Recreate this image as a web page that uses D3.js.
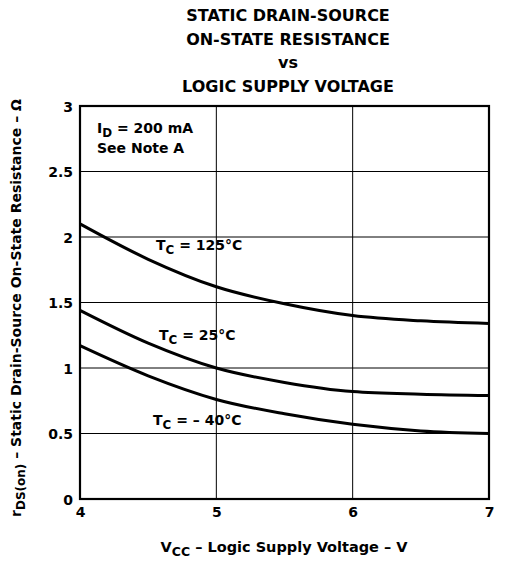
<!DOCTYPE html>
<html><head><meta charset="utf-8">
<script src="https://cdn.jsdelivr.net/npm/d3@7"></script>
<style>body{margin:0;background:#fff}svg{display:block}text{font-family:"DejaVu Sans",sans-serif;font-weight:bold;fill:#000}</style>
</head><body>
<svg id="c" width="513" height="564"></svg>
<script>
const vcc = [4, 4.5, 5, 5.5, 6, 6.5, 7];
const r125 = [2.10, 1.83, 1.62, 1.49, 1.40, 1.36, 1.34];
const r25 = [1.44, 1.19, 1.00, 0.89, 0.82, 0.80, 0.79];
const rm40 = [1.17, 0.94, 0.76, 0.65, 0.57, 0.52, 0.50];
const xTicks = [4, 5, 6, 7];
const yTicks = [0, 0.5, 1, 1.5, 2, 2.5, 3];
const yTickLabels = ["0", "0.5", "1", "1.5", "2", "2.5", "3"];
const titleLines = ["STATIC DRAIN-SOURCE", "ON-STATE RESISTANCE", "vs", "LOGIC SUPPLY VOLTAGE"];

const FONT = '"DejaVu Sans",sans-serif';
const svg = d3.select("#c");
const L = 80, R = 489, T = 106, B = 499;
const x = d3.scaleLinear().domain([4, 7]).range([L, R]);
const y = d3.scaleLinear().domain([0, 3]).range([B, T]);

// title
svg.append("g").selectAll("text").data(titleLines).join("text")
  .attr("x", 288).attr("y", (d, i) => 21 + i * 23.5)
  .attr("text-anchor", "middle").style("font-size", "16px").text(d => d);

// grid
const g = svg.append("g");
g.selectAll(".hg").data(yTicks).join("line")
  .attr("x1", L).attr("x2", R).attr("y1", d => y(d)).attr("y2", d => y(d))
  .attr("stroke", "#000").attr("stroke-width", 1);
g.selectAll(".vg").data(xTicks).join("line")
  .attr("y1", T).attr("y2", B).attr("x1", d => x(d)).attr("x2", d => x(d))
  .attr("stroke", "#000").attr("stroke-width", 1);
// frame
g.append("rect").attr("x", L).attr("y", T).attr("width", R - L).attr("height", B - T)
  .attr("fill", "none").attr("stroke", "#000").attr("stroke-width", 2.2);

// axes labels via d3 axis
const ya = d3.axisLeft(y).tickValues(yTicks).tickFormat((d, i) => yTickLabels[i]).tickSize(0).tickPadding(7);
const yg = svg.append("g").attr("transform", `translate(${L},0)`).call(ya);
const xa = d3.axisBottom(x).tickValues(xTicks).tickFormat(d3.format("d")).tickSize(0).tickPadding(8);
const xg = svg.append("g").attr("transform", `translate(0,${B})`).call(xa);
[yg, xg].forEach(a => {
  a.select(".domain").remove();
  a.selectAll("text").style("font-family", FONT).style("font-weight", "bold").style("font-size", "14px").attr("fill", "#000");
});
yg.selectAll("text").attr("dy", "0.36em");

// curves
const line = d3.line().x((d, i) => x(vcc[i])).y(d => y(d)).curve(d3.curveMonotoneX);
[r125, r25, rm40].forEach(s => {
  svg.append("path").attr("d", line(s)).attr("fill", "none").attr("stroke", "#000").attr("stroke-width", 3);
});

// annotations
function sub(x0, y0, main, subs, rest, size) {
  const e = svg.append("text").attr("x", x0).attr("y", y0).style("font-size", size + "px");
  e.append("tspan").text(main);
  e.append("tspan").attr("dy", 4).style("font-size", (size * 0.85) + "px").text(subs);
  e.append("tspan").attr("dy", -4).text(rest);
  return e;
}
sub(97, 133, "I", "D", " = 200 mA", 14);
svg.append("text").attr("x", 97).attr("y", 153).style("font-size", "14px").text("See Note A");
sub(156, 250, "T", "C", " = 125°C", 14);
sub(159, 340, "T", "C", " = 25°C", 14);
sub(153, 425, "T", "C", " = – 40°C", 14);

// x label
const xl = svg.append("text").attr("x", 284).attr("y", 552).attr("text-anchor", "middle").style("font-size", "14.5px");
xl.append("tspan").text("V");
xl.append("tspan").attr("dy", 4).style("font-size", "12.5px").text("CC");
xl.append("tspan").attr("dy", -4).text(" – Logic Supply Voltage – V");

// y label
const yl = svg.append("text").attr("transform", "translate(21,308) rotate(-90)").attr("text-anchor", "middle").style("font-size", "14px");
yl.append("tspan").text("r");
yl.append("tspan").attr("dy", 4).style("font-size", "12px").text("DS(on)");
yl.append("tspan").attr("dy", -4).text(" – Static Drain-Source On-State Resistance – Ω");
</script>
</body></html>
